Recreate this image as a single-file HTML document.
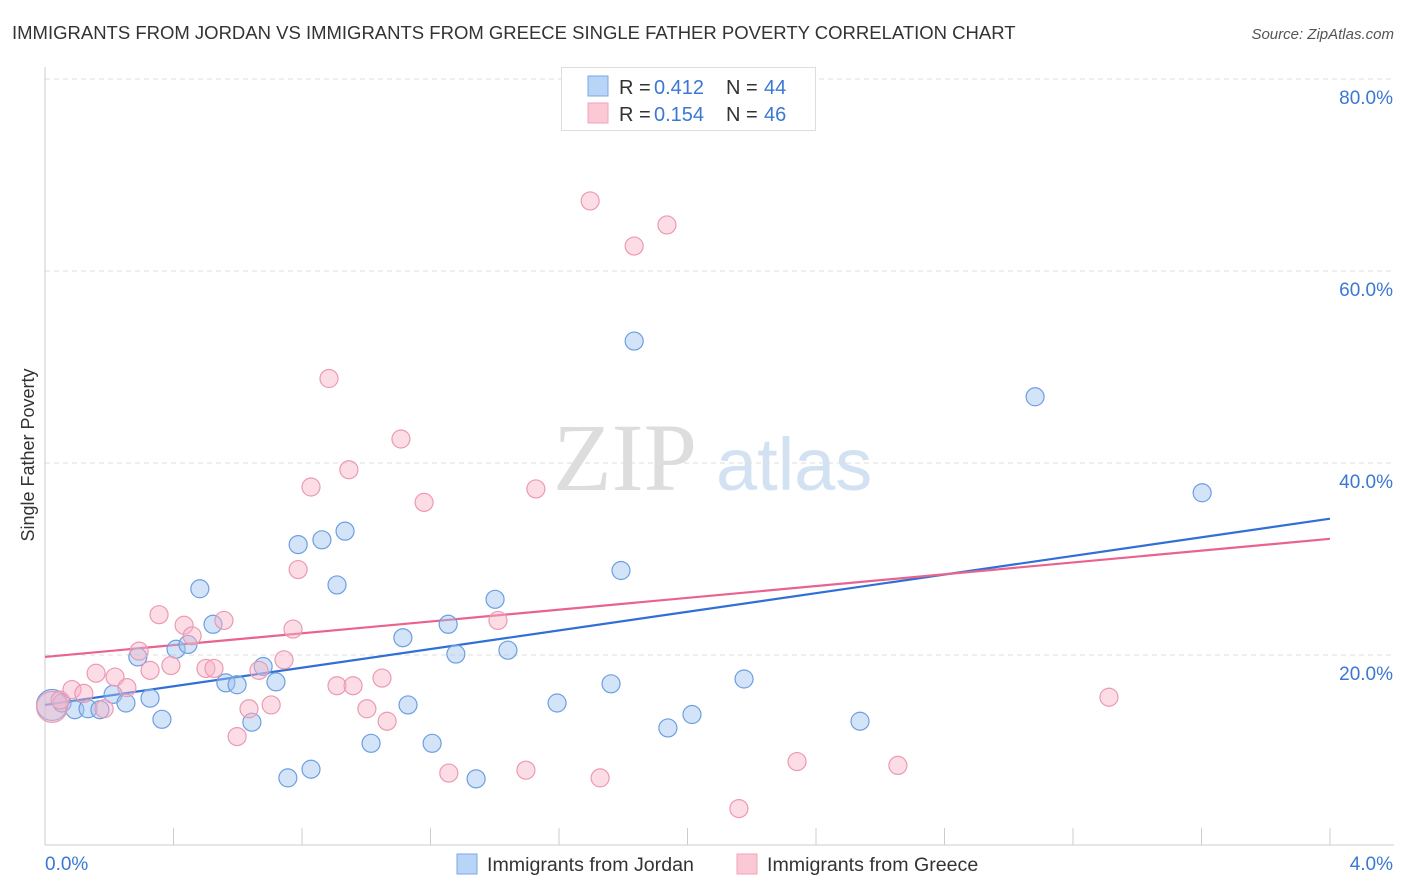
<!DOCTYPE html>
<html><head><meta charset="utf-8"><style>
body{margin:0;background:#fff;font-family:"Liberation Sans",sans-serif;}
svg{display:block}
</style></head><body>
<svg id="chart" width="1406" height="892" xmlns="http://www.w3.org/2000/svg">
<text x="12" y="39" font-size="18.5" fill="#333">IMMIGRANTS FROM JORDAN VS IMMIGRANTS FROM GREECE SINGLE FATHER POVERTY CORRELATION CHART</text>
<text x="1394" y="39" font-size="15" fill="#555" font-style="italic" text-anchor="end">Source: ZipAtlas.com</text>
<text x="34" y="455" font-size="18" fill="#333" text-anchor="middle" transform="rotate(-90 34 455)">Single Father Poverty</text>
<g>
<text x="553" y="490" font-family="Liberation Serif,serif" font-size="96" fill="#ddd">ZIP</text>
<text x="716" y="490" font-size="74" fill="#d3e2f3">atlas</text>
</g>
<g id="grid"></g>
<g id="axes"></g>
<g id="lines"></g>
<g id="pts"></g>
<g>
<rect x="561.5" y="67.5" width="254" height="63" fill="#fff" stroke="#ddd"/>
<rect x="588" y="76" width="20" height="20" fill="#b8d4f6" stroke="#7aa8e6"/>
<text y="94" font-size="20" fill="#333"><tspan x="619">R =</tspan><tspan x="654" fill="#3a78d4">0.412</tspan><tspan x="726">N =</tspan><tspan x="764" fill="#3a78d4">44</tspan></text>
<rect x="588" y="103" width="20" height="20" fill="#fbc8d6" stroke="#f0a3ba"/>
<text y="121" font-size="20" fill="#333"><tspan x="619">R =</tspan><tspan x="654" fill="#3a78d4">0.154</tspan><tspan x="726">N =</tspan><tspan x="764" fill="#3a78d4">46</tspan></text>
</g>
<g>
<rect x="457" y="854" width="20" height="20" fill="#b8d4f6" stroke="#7aa8e6"/>
<text x="487" y="871" font-size="19.6" fill="#333">Immigrants from Jordan</text>
<rect x="737" y="854" width="20" height="20" fill="#fbc8d6" stroke="#f0a3ba"/>
<text x="767" y="871" font-size="19.6" fill="#333">Immigrants from Greece</text>
</g>
</svg>
<script>
const yTicks=[20,40,60,80];
const yTickLabels=["20.0%","40.0%","60.0%","80.0%"];
const xTickLabels=["0.0%","4.0%"];
const jordanX=[0.022,0.053,0.093,0.134,0.171,0.212,0.252,0.289,0.327,0.364,0.408,0.445,0.482,0.523,0.563,0.598,0.644,0.679,0.719,0.756,0.788,0.828,0.862,0.909,0.934,1.015,1.114,1.130,1.205,1.255,1.279,1.342,1.401,1.441,1.594,1.762,1.793,1.834,1.939,2.014,2.176,2.537,3.082,3.602];
const jordanY=[14.8,15.0,14.3,14.4,14.3,15.9,15.0,19.8,15.5,13.3,20.6,21.1,26.9,23.2,17.1,16.9,13.0,18.8,17.2,7.2,31.5,8.1,32.0,27.3,32.9,10.8,21.8,14.8,10.8,23.2,20.1,7.1,25.8,20.5,15.0,17.0,28.8,52.7,12.4,13.8,17.5,13.1,46.9,36.9];
const greeceX=[0.022,0.047,0.084,0.121,0.159,0.184,0.218,0.255,0.293,0.327,0.355,0.392,0.433,0.458,0.501,0.526,0.557,0.598,0.635,0.666,0.704,0.744,0.772,0.788,0.828,0.884,0.909,0.946,0.959,1.002,1.049,1.065,1.108,1.180,1.257,1.410,1.497,1.528,1.697,1.728,1.834,1.936,2.160,2.341,2.655,3.312];
const greeceY=[14.6,15.3,16.4,16.0,18.1,14.4,17.7,16.6,20.4,18.4,24.2,18.9,23.1,22.0,18.6,18.6,23.6,11.5,14.4,18.4,14.8,19.5,22.7,28.9,37.5,48.8,16.8,39.3,16.8,14.4,17.6,13.1,42.5,35.9,7.7,23.6,8.0,37.3,67.3,7.2,62.6,64.8,4.0,8.9,8.5,15.6];
const jordanTrend=[14.8,34.2];
const greeceTrend=[19.8,32.1];
const trendX=[0,4];

const NS="http://www.w3.org/2000/svg";
const X0=45,X1=1330,Y0=847;
function xs(v){return X0+v/4*(X1-X0);}
function ys(v){return Y0-v*9.6;}
function mk(tag,attrs,parent){const e=document.createElementNS(NS,tag);for(const k in attrs)e.setAttribute(k,attrs[k]);document.getElementById(parent).appendChild(e);return e;}

yTicks.forEach((t,i)=>{
  const g=mk('line',{x1:X0,x2:1394,y1:ys(t),y2:ys(t),stroke:'#ddd','stroke-dasharray':'5,4'},'grid');
  
  
  const l=mk('text',{x:1393,y:ys(t)+25,'font-size':19,fill:'#3a78d4','text-anchor':'end'},'axes');
  l.textContent=yTickLabels[i];
  
  
});
const ya=mk('line',{x1:X0,x2:X0,y1:67,y2:845,stroke:'#ccc'},'axes');


const xa=mk('line',{x1:X0,x2:1394,y1:845,y2:845,stroke:'#ccc'},'axes');


for(let i=1;i<=10;i++){
  const t=mk('line',{x1:xs(i*0.4),x2:xs(i*0.4),y1:828,y2:845,stroke:'#ccc'},'axes');
  
  
}
[[0,'start',45],[4,'end',1393]].forEach((d,i)=>{
  const l=mk('text',{x:d[2],y:870,'font-size':19,fill:'#3a78d4','text-anchor':d[1]},'axes');
  l.textContent=xTickLabels[i];
  
  
});
function pts(X,Y,fill,stroke,name){
  X.forEach((x,i)=>{
    const r=(i===0)?15.5:9;
    const c=mk('circle',{cx:xs(x),cy:ys(Y[i]),r:r,fill:fill,stroke:stroke,'stroke-width':1.2},'pts');
    
    
  });
}
pts(jordanX,jordanY,'rgba(160,196,240,0.45)','#6c9fe0','point-jordan');
pts(greeceX,greeceY,'rgba(248,180,200,0.45)','#eb9ab3','point-greece');
const tl1=mk('line',{x1:xs(trendX[0]),x2:xs(trendX[1]),y1:ys(jordanTrend[0]),y2:ys(jordanTrend[1]),stroke:'#2f6fd6','stroke-width':2.2},'lines');


const tl2=mk('line',{x1:xs(trendX[0]),x2:xs(trendX[1]),y1:ys(greeceTrend[0]),y2:ys(greeceTrend[1]),stroke:'#e8638d','stroke-width':2.2},'lines');


</script>
</body></html>
